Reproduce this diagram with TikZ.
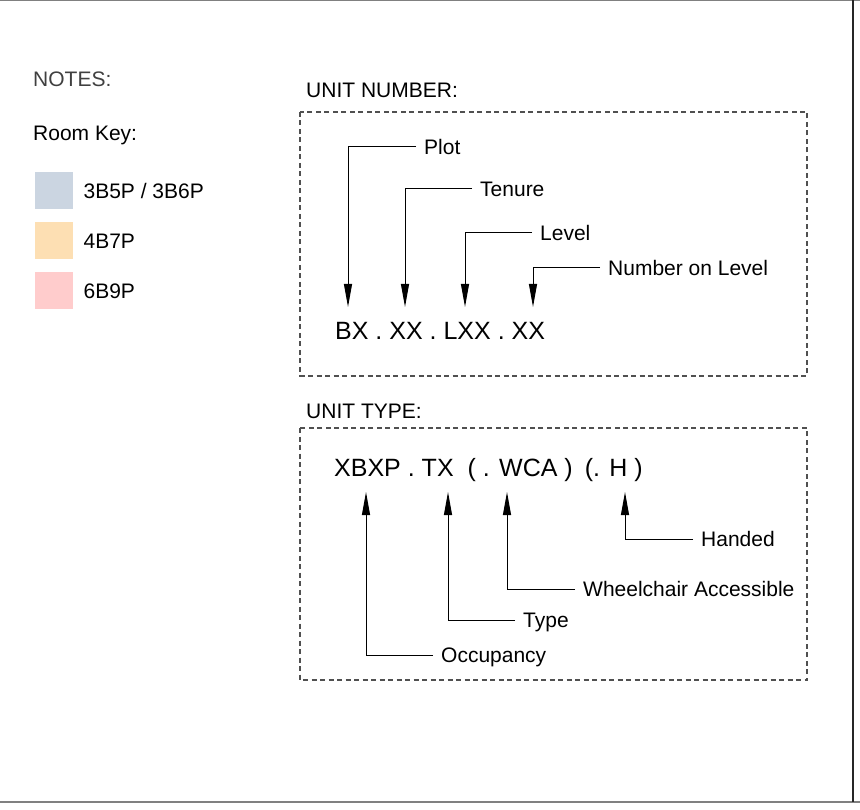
\documentclass[tikz,border=0pt]{standalone}
\usepackage{fontspec}
\setmainfont{Liberation Sans}
\usetikzlibrary{positioning, arrows.meta}
\definecolor{cKeyBlue}{RGB}{203, 213, 225}
\definecolor{cKeyOrange}{RGB}{253, 223, 179}
\definecolor{cKeyRose}{RGB}{255, 204, 204}
\definecolor{cDash}{RGB}{80, 80, 80}

\begin{document}
\begin{tikzpicture}[
    x=1pt, y=-1pt,
    notetext/.style={anchor=west, inner sep=0pt, text height=15pt, text depth=0pt, font=\fontsize{21}{25}\selectfont},
    keybox/.style={anchor=north west, minimum width=38pt, minimum height=37pt, inner sep=0pt},
    codetext/.style={anchor=west, inner sep=0pt, text height=18pt, text depth=0pt, font=\fontsize{25}{30}\selectfont},
    callout/.style={anchor=west, inner xsep=8pt, inner ysep=0pt, text height=15pt, text depth=0pt, font=\fontsize{21}{25}\selectfont},
    pointer/.style={-{Triangle[length=23pt, width=8pt]}, line width=1pt},
    dashbox/.style={draw=cDash, line width=1.1pt, dash pattern=on 5pt off 3.5pt}
]

    % --- Blattrand ---
    \useasboundingbox (0,0) rectangle (860,810);
    \draw[gray, line width=1.5pt] (0,0.75) -- (860,0.75);
    \draw[gray, line width=2pt] (0,801.5) -- (860,801.5);
    \draw[black!85, line width=1.5pt] (853,0) -- (853,802);

    % --- Notizen / Raumschluessel (links) ---
    \node[notetext, text=black!75] (notes) at (33,79) {NOTES:};
    \node[notetext] (roomkey) at (33,133) {Room Key:};

    \node[keybox, fill=cKeyBlue] (key1) at (35,172) {};
    \node[keybox, fill=cKeyOrange] (key2) at (35,222) {};
    \node[keybox, fill=cKeyRose] (key3) at (35,272) {};
    \node[notetext, right=10pt of key1] (key1text) {3B5P / 3B6P};
    \node[notetext, right=10pt of key2] (key2text) {4B7P};
    \node[notetext, right=10pt of key3] (key3text) {6B9P};

    % --- Unit Number ---
    \node[notetext] (numtitle) at (306,90) {UNIT NUMBER:};
    \draw[dashbox] (300,112) rectangle (807,376);
    \node[codetext] (numcode) at (335,331) {BX . XX . LXX . XX};

    % Pfeilspitzen
    \coordinate (tipPlot) at (348,307);
    \coordinate (tipTenure) at (405,307);
    \coordinate (tipLevel) at (465,307);
    \coordinate (tipNumber) at (533,307);

    % Beschriftung
    \node[callout] (plot) at (416,147) {Plot};
    \node[callout] (tenure) at (472,189) {Tenure};
    \node[callout] (level) at (532,233) {Level};
    \node[callout] (number) at (600,268) {Number on Level};

    \draw[pointer] (plot.west) -| (tipPlot);
    \draw[pointer] (tenure.west) -| (tipTenure);
    \draw[pointer] (level.west) -| (tipLevel);
    \draw[pointer] (number.west) -| (tipNumber);

    % --- Unit Type ---
    \node[notetext] (typetitle) at (306,411) {UNIT TYPE:};
    \draw[dashbox] (300,428) rectangle (807,680);
    \node[codetext] (typecode) at (334,467) {XBXP . TX\hspace{14pt}( . WCA )\hspace{12pt}(. H )};

    % Pfeilspitzen
    \coordinate (tipOcc) at (366,492);
    \coordinate (tipType) at (448,492);
    \coordinate (tipWca) at (507,492);
    \coordinate (tipHanded) at (625,492);

    % Beschriftung
    \node[callout] (handed) at (693,539) {Handed};
    \node[callout] (wca) at (575,589) {Wheelchair Accessible};
    \node[callout] (type) at (515,620) {Type};
    \node[callout] (occ) at (433,655) {Occupancy};

    \draw[pointer] (occ.west) -| (tipOcc);
    \draw[pointer] (type.west) -| (tipType);
    \draw[pointer] (wca.west) -| (tipWca);
    \draw[pointer] (handed.west) -| (tipHanded);

\end{tikzpicture}
\end{document}
